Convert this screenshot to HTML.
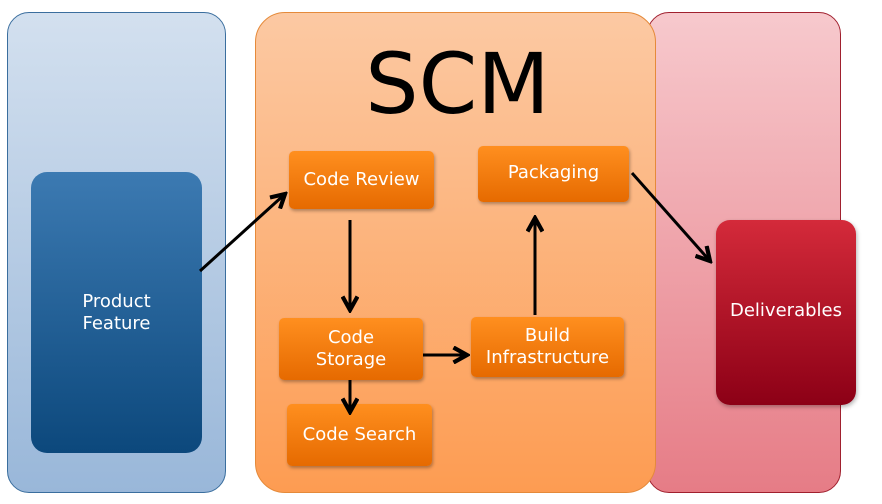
<!DOCTYPE html>
<html><head><style>
body{margin:0;width:882px;height:504px;background:#fff;position:relative;overflow:hidden;font-family:"DejaVu Sans","Liberation Sans",sans-serif}
.p{position:absolute;border-radius:22px;box-sizing:border-box}
.b{position:absolute;box-sizing:border-box;border-radius:5px;background:linear-gradient(#ff8f1f,#e66a00);color:#fff;font-size:18px;display:flex;align-items:center;justify-content:center;text-align:center;line-height:22px;box-shadow:1px 2px 3px rgba(0,0,0,.3)}
</style></head><body>
<div class="p" style="left:7px;top:12px;width:219px;height:481px;background:linear-gradient(#d3e0ef,#99b7d9);border:1px solid #3a6e9e"></div>
<div class="p" style="left:647px;top:12px;width:194px;height:481px;background:linear-gradient(#f7c9cd,#e67c86);border:1px solid #a0202e"></div>
<div class="p" style="left:255px;top:12px;width:401px;height:481px;border-radius:30px;background:linear-gradient(#fcc9a3,#fd9c52);border:1px solid #e58a3a"></div>
<div style="position:absolute;left:257px;top:34px;width:401px;text-align:center;font-size:84px;line-height:100px;color:#000">SCM</div>
<div class="p" style="left:31px;top:172px;width:171px;height:281px;border-radius:16px;background:linear-gradient(#3c7ab2,#0c487c);color:#fff;font-size:18px;display:flex;align-items:center;justify-content:center;text-align:center;line-height:22px">Product<br>Feature</div>
<div class="p" style="left:716px;top:220px;width:140px;height:185px;border-radius:14px;background:linear-gradient(#d42a3a,#8c0016);color:#fff;font-size:18px;display:flex;align-items:flex-start;padding-top:80px;justify-content:center;box-shadow:1px 2px 4px rgba(0,0,0,.3)">Deliverables</div>
<div class="b" style="left:289px;top:151px;width:145px;height:58px">Code Review</div>
<div class="b" style="left:478px;top:146px;width:151px;height:56px;align-items:flex-start;padding-top:16px">Packaging</div>
<div class="b" style="left:279px;top:318px;width:144px;height:62px">Code<br>Storage</div>
<div class="b" style="left:471px;top:317px;width:153px;height:60px">Build<br>Infrastructure</div>
<div class="b" style="left:287px;top:404px;width:145px;height:62px">Code Search</div>
<svg width="882" height="504" style="position:absolute;left:0;top:0">
<defs><marker id="a" markerWidth="6" markerHeight="6" refX="5" refY="3" orient="auto" markerUnits="strokeWidth"><path d="M0.5,0.5 L5,3 L0.5,5.5" fill="none" stroke="#000" stroke-width="1.4"/></marker></defs>
<g stroke="#000" stroke-width="3" fill="none" marker-end="url(#a)">
<line x1="200" y1="271" x2="285" y2="194"/>
<line x1="350" y1="220" x2="350" y2="310"/>
<line x1="350" y1="380" x2="350" y2="412"/>
<line x1="423" y1="355" x2="467" y2="355"/>
<line x1="535" y1="315" x2="535" y2="218"/>
<line x1="632" y1="173" x2="710" y2="261"/>
</g></svg>
</body></html>
